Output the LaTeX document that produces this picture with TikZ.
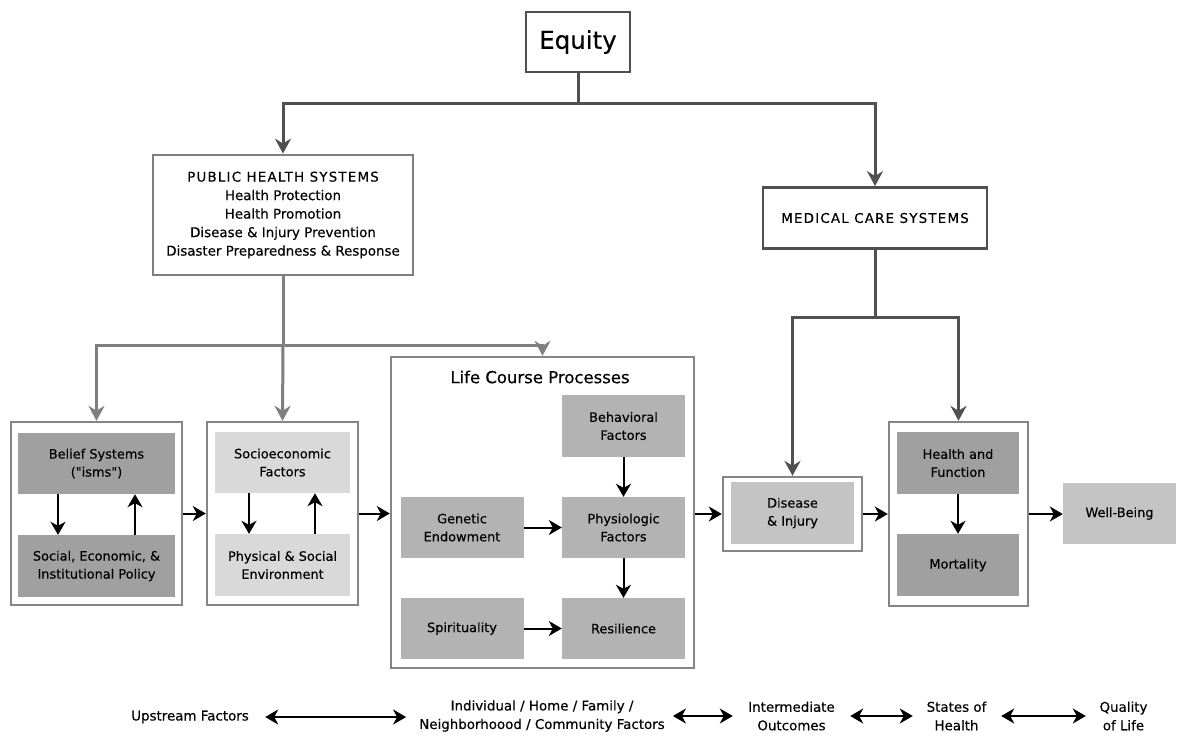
\documentclass[tikz,border=0pt]{standalone}
\usepackage{fontspec}
\setmainfont{DejaVu Sans}[Ligatures=TeXOff, UprightFeatures={FakeBold=0.35}]
\usetikzlibrary{arrows.meta}
\definecolor{dk}{HTML}{505050}
\definecolor{gr}{HTML}{7F7F7F}
\definecolor{ol}{HTML}{858585}
\definecolor{fA}{HTML}{A0A0A0}
\definecolor{fB}{HTML}{D9D9D9}
\definecolor{fC}{HTML}{B3B3B3}
\definecolor{fD}{HTML}{C4C4C4}
\newcommand{\capsp}{\addfontfeature{LetterSpace=9}}
\tikzset{
  txt/.style={font=\fontsize{13.4}{18.5}\selectfont, align=center, text=black},
  intxt/.style={font=\fontsize{12.9}{18}\selectfont, align=center, text=black},
  outer/.style={draw=ol, line width=2.4pt, fill=white, inner sep=0pt},
  topbox/.style={txt, draw=dk, line width=2.8pt, fill=white, inner sep=0pt},
  inbox/.style={intxt, inner sep=0pt, minimum width=#1},
  inbox/.default=123pt,
  darkline/.style={draw=dk, line width=3pt},
  darkarrow/.style={draw=dk, line width=3pt, -{Stealth[length=15pt,width=16pt,inset=5pt]}},
  grayline/.style={draw=gr, line width=3pt},
  grayarrow/.style={draw=gr, line width=3pt, -{Stealth[length=15pt,width=16pt,inset=5pt]}},
  blackarrow/.style={draw=black, line width=2pt, -{Stealth[length=13pt,width=15pt,inset=4pt]}},
  dblarrow/.style={draw=black, line width=2pt, {Stealth[length=13pt,width=15pt,inset=4pt]}-{Stealth[length=13pt,width=15pt,inset=4pt]}},
  bottomtxt/.style={txt, inner sep=0pt, minimum width=#1},
  bottomtxt/.default=50pt
}
\begin{document}
\begin{tikzpicture}[x=1pt,y=-1pt]
\useasboundingbox[fill=white] (0,0) rectangle (1182,748);

% top boxes
\node[topbox, minimum width=104pt, minimum height=60pt, font=\fontsize{24.5}{28}\selectfont] (equity) at (578,42) {Equity};
\node[topbox, draw=gr, minimum width=260pt, minimum height=120pt] (phs) at (283,215)
  {{\capsp PUBLIC HEALTH SYSTEMS}\\Health Protection\\Health Promotion\\Disease \& Injury Prevention\\Disaster Preparedness \& Response};
\node[topbox, minimum width=224pt, minimum height=61pt] (mcs) at (875,218) {\capsp MEDICAL CARE SYSTEMS};

% left groups
\node[outer, minimum width=171pt, minimum height=183pt] (beliefO) at (96.5,513.5) {};
\node[inbox=157pt, fill=fA, minimum height=61pt] (belief) at (96.5,463.5) {Belief Systems\\("isms")};
\node[inbox=157pt, fill=fA, minimum height=62pt] (social) at (96.5,566) {Social, Economic, \&\\Institutional Policy};

\node[outer, minimum width=151pt, minimum height=183pt] (socioO) at (282.5,513.5) {};
\node[inbox=135pt, fill=fB, minimum height=61pt] (socio) at (282.5,462.5) {Socioeconomic\\Factors};
\node[inbox=135pt, fill=fB, minimum height=62pt] (phys) at (282.5,565) {Physical \& Social\\Environment};

% life course
\node[outer, minimum width=303pt, minimum height=311pt] (life) at (542.5,512.5) {};
\node[txt, font=\fontsize{16.5}{20}\selectfont] (lifetitle) at (540,377) {Life Course Processes};
\node[inbox, fill=fC, minimum height=62pt] (behav) at (623.5,426) {Behavioral\\Factors};
\node[inbox, fill=fC, minimum height=61pt] (genetic) at (462,527.5) {Genetic\\Endowment};
\node[inbox, fill=fC, minimum height=61pt] (physio) at (623.5,527.5) {Physiologic\\Factors};
\node[inbox, fill=fC, minimum height=61pt] (spirit) at (462,628.5) {Spirituality};
\node[inbox, fill=fC, minimum height=61pt] (resil) at (623.5,628.5) {Resilience};

% right groups
\node[outer, minimum width=139pt, minimum height=74pt] (diseaseO) at (792.5,514) {};
\node[inbox, fill=fD, minimum height=62pt] (disease) at (792.5,513) {Disease\\\& Injury};
\node[outer, minimum width=139pt, minimum height=184pt] (healthO) at (958.5,514) {};
\node[inbox=122pt, fill=fA, minimum height=62pt] (health) at (958,463) {Health and\\Function};
\node[inbox=122pt, fill=fA, minimum height=62pt] (mort) at (958,565) {Mortality};
\node[inbox=113pt, fill=fD, minimum height=61pt] (well) at (1119.5,513.5) {Well-Being};

% connectors from Equity
\coordinate (eq) at (578,103);
\draw[darkline] (equity.south) -- (eq);
\draw[darkarrow] (eq) -| (phs.north);
\draw[darkarrow] (eq) -| (mcs.north);

% from PHS
\coordinate (pj) at (283,345);
\draw[grayline] (phs.south) -- (pj);
\draw[grayarrow] (pj) -| (beliefO.north);
\draw[grayarrow] (pj) -- (socioO.north);
\draw[grayarrow] (pj) -| (life.north);

% from MCS
\coordinate (mj) at (875,317);
\draw[darkline] (mcs.south) -- (mj);
\draw[darkarrow] (mj) -| (diseaseO.north);
\draw[darkarrow] (mj) -| (healthO.north);

% black arrows
\draw[blackarrow] ([xshift=-38.5pt]belief.south) -- ([xshift=-38.5pt]social.north);
\draw[blackarrow] ([xshift=38.5pt]social.north) -- ([xshift=38.5pt]belief.south);
\draw[blackarrow] ([xshift=-33.5pt]socio.south) -- ([xshift=-33.5pt]phys.north);
\draw[blackarrow] ([xshift=32.5pt]phys.north) -- ([xshift=32.5pt]socio.south);
\draw[blackarrow] (beliefO.east) -- (socioO.west);
\draw[blackarrow] (socioO.east) -- (socioO.east -| life.west);
\draw[blackarrow] (behav.south) -- (physio.north);
\draw[blackarrow] (genetic.east) -- (physio.west);
\draw[blackarrow] (physio.south) -- (resil.north);
\draw[blackarrow] (spirit.east) -- (resil.west);
\draw[blackarrow] (diseaseO.west -| life.east) -- (diseaseO.west);
\draw[blackarrow] (diseaseO.east) -- (healthO.west);
\draw[blackarrow] (healthO.east) -- (healthO.east -| well.west);
\draw[blackarrow] (health.south) -- (mort.north);

% bottom scale
\node[bottomtxt=118pt] (b1) at (190,717) {Upstream Factors};
\node[bottomtxt=242pt] (b2) at (542,716) {Individual / Home / Family /\\Neighborhoood / Community Factors};
\node[bottomtxt=89pt] (b3) at (791.5,716) {Intermediate\\Outcomes};
\node[bottomtxt=61pt] (b4) at (956.5,716) {States of\\Health};
\node[bottomtxt=49pt] (b5) at (1123.5,716) {Quality\\of Life};
\draw[dblarrow] ([xshift=16pt]b1.east) -- ([xshift=-13pt]b1.east -| b2.west);
\draw[dblarrow] ([xshift=8pt]b2.east) -- ([xshift=-14pt]b3.west);
\draw[dblarrow] ([xshift=14pt]b3.east) -- ([xshift=-13pt]b4.west);
\draw[dblarrow] ([xshift=14pt]b4.east) -- ([xshift=-13pt]b5.west);
\end{tikzpicture}
\end{document}
